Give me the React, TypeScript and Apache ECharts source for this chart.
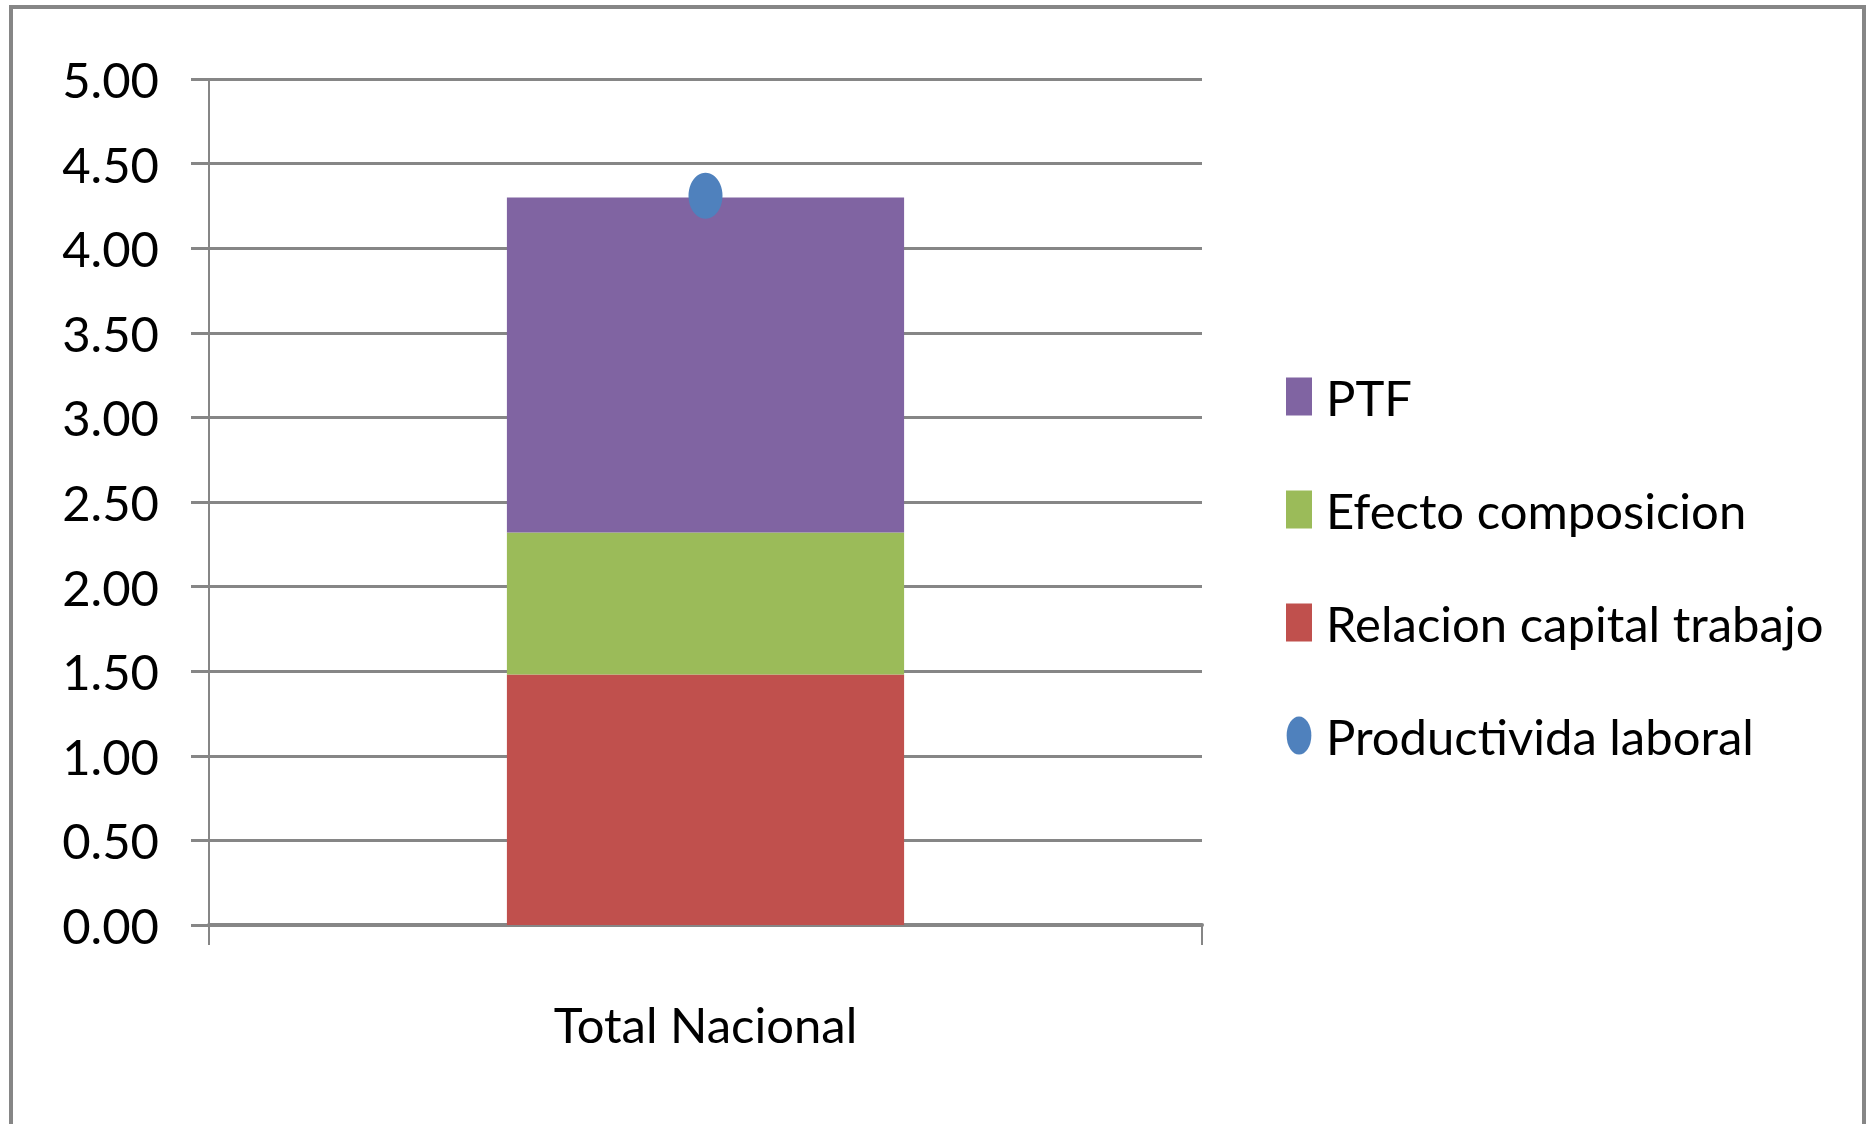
import React, { useEffect, useRef } from "react";
import * as echarts from "echarts";

const categories = ["Total Nacional"];
const relacionCapitalTrabajo = [1.48];
const efectoComposicion = [0.84];
const ptf = [1.98];
const productividaLaboral = [4.31];
const yTicks = [0, 0.5, 1, 1.5, 2, 2.5, 3, 3.5, 4, 4.5, 5];

const FONT = "Lato, 'Liberation Sans', sans-serif";
const GRID = "#868686";
const FS = 49;

export default function App() {
  const ref = useRef<HTMLDivElement>(null);
  useEffect(() => {
    document.body.style.margin = "0";
    const chart = echarts.init(ref.current!, null, { renderer: "svg" });
    chart.setOption({
      animation: false,
      backgroundColor: "#ffffff",
      textStyle: { fontFamily: FONT },
      graphic: [
        {
          type: "rect",
          shape: { x: 11, y: 7, width: 1853, height: 1140 },
          style: { fill: "none", stroke: GRID, lineWidth: 4 },
          z: 0,
        },
      ],
      grid: { left: 209, right: 667, top: 79, bottom: 199, containLabel: false },
      xAxis: {
        type: "category",
        data: categories,
        axisLine: { show: true, lineStyle: { color: GRID, width: 4 } },
        axisTick: { show: true, length: 20, lineStyle: { color: GRID, width: 2 } },
        axisLabel: { color: "#000", fontSize: FS, fontFamily: FONT, margin: 74 },
      },
      yAxis: {
        type: "value",
        min: yTicks[0],
        max: yTicks[yTicks.length - 1],
        interval: 0.5,
        axisLine: { show: true, lineStyle: { color: GRID, width: 2 } },
        axisTick: { show: true, length: 18, lineStyle: { color: GRID, width: 3 } },
        splitLine: { show: true, lineStyle: { color: GRID, width: 3 } },
        axisLabel: {
          color: "#000",
          fontSize: FS,
          fontFamily: FONT,
          margin: 50,
          formatter: (v: number) => v.toFixed(2),
        },
      },
      legend: {
        orient: "vertical",
        left: 1286,
        top: 372,
        padding: 0,
        itemWidth: 26,
        itemHeight: 38,
        itemGap: 64,
        textStyle: { color: "#000", fontSize: FS, fontFamily: FONT, lineHeight: 44, padding: [0, 0, 0, 9] },
        data: [
          { name: "PTF", icon: "rect" },
          { name: "Efecto composicion", icon: "rect" },
          { name: "Relacion capital trabajo", icon: "rect" },
          {
            name: "Productivida laboral",
            icon: "path://M0,20 A13,20 0 1 0 26,20 A13,20 0 1 0 0,20 Z",
            itemStyle: { color: "#4F81BD", opacity: 1 },
          },
        ],
      },
      series: [
        {
          name: "Relacion capital trabajo",
          type: "bar",
          stack: "total",
          barWidth: "40%",
          data: relacionCapitalTrabajo,
          itemStyle: { color: "#C0504D" },
        },
        {
          name: "Efecto composicion",
          type: "bar",
          stack: "total",
          data: efectoComposicion,
          itemStyle: { color: "#9BBB59" },
        },
        {
          name: "PTF",
          type: "bar",
          stack: "total",
          data: ptf,
          itemStyle: { color: "#8064A2" },
        },
        {
          name: "Productivida laboral",
          type: "scatter",
          data: productividaLaboral,
          symbol: "circle",
          symbolSize: [34, 46],
          itemStyle: { color: "#4F81BD", opacity: 1 },
          z: 5,
        },
      ],
    });
    return () => chart.dispose();
  }, []);
  return (
    <div
      ref={ref}
      style={{ position: "absolute", left: 0, top: 0, width: 1869, height: 1124 }}
    />
  );
}
